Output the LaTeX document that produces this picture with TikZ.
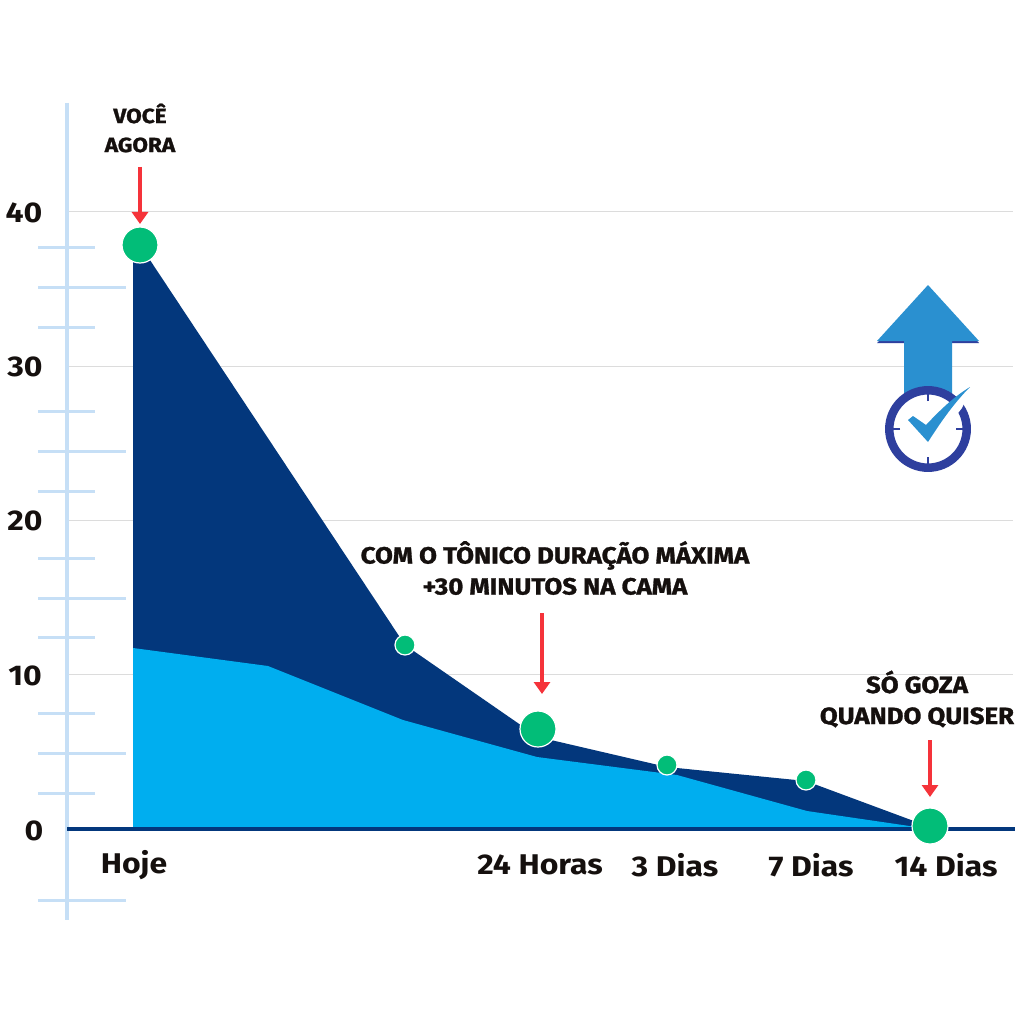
\documentclass[tikz,border=0pt]{standalone}
\usepackage{fontspec}
\setmainfont{Fira Sans}[BoldFeatures={FakeStretch=1.12}]
\newfontfamily\calloutfont{Fira Sans}[BoldFeatures={FakeStretch=1.10,FakeBold=1.2}]
\usetikzlibrary{arrows.meta}
\definecolor{darkarea}{HTML}{03377C}
\definecolor{lightarea}{HTML}{00AEEF}
\definecolor{dotgreen}{HTML}{02BD78}
\definecolor{redarrow}{HTML}{F5333A}
\definecolor{rulerblue}{HTML}{C6DFF6}
\definecolor{gridgray}{HTML}{DCDCDC}
\definecolor{inkblack}{HTML}{15100E}
\definecolor{clockblue}{HTML}{2E3F9E}
\definecolor{bigarrow}{HTML}{2A90D0}
\tikzset{
  gridline/.style={draw=gridgray,line width=1pt},
  rulerline/.style={draw=rulerblue,line width=4pt},
  tickline/.style={draw=rulerblue,line width=3pt},
  bigdot/.style={circle,fill=dotgreen,draw=white,line width=1.2pt,minimum size=36pt,inner sep=0pt},
  smalldot/.style={circle,fill=dotgreen,draw=white,line width=1.2pt,minimum size=20pt,inner sep=0pt},
  redline/.style={draw=redarrow,line width=3.6pt,-{Triangle[width=16pt,length=12pt]}},
  axislabel/.style={text=inkblack,font=\bfseries\fontsize{28.5}{30}\selectfont,inner sep=0pt},
  callout/.style={text=inkblack,font=\calloutfont\bfseries\fontsize{23.5}{31}\selectfont,align=center,inner sep=0pt}
}
\begin{document}
\begin{tikzpicture}[x=1pt,y=-1pt]
  \useasboundingbox[fill=white] (0,0) rectangle (1024,1024);
  % horizontal grid
  \foreach \yy in {212,366,520,674}
    \draw[gridline] (69,\yy) -- (1013,\yy);
  % ruler on the left
  \draw[rulerline] (67,103) -- (67,920);
  \foreach \yy in {247,327,411,491,558,637,713,793}
    \draw[tickline] (38,\yy) -- (95,\yy);
  \foreach \yy in {287,451,598,753,900}
    \draw[tickline] (38,\yy) -- (126,\yy);
  % areas
  \fill[darkarea] (133,829) -- (133,245) -- (140,245) -- (405,645) -- (538,737) -- (667,767) -- (806,781) -- (930,827) -- (930,829) -- cycle;
  \fill[lightarea] (133,829) -- (133,648) -- (268,666) -- (403,720) -- (537,757) -- (677,775) -- (807,811) -- (930,829) -- cycle;
  \draw[draw=darkarea,line width=4pt] (67,829) -- (1015,829);
  % big arrow and clock
  \fill[clockblue] (877,343) -- (979,343) -- (975,339) -- (881,339) -- cycle;
  \fill[bigarrow] (928,285) -- (979,341) -- (952,341) -- (952,400) -- (904,400) -- (904,341) -- (877,341) -- cycle;
  \draw[draw=clockblue,fill=white,line width=8.5pt] (928,429) circle (38.7);
  \foreach \aa in {0,90,180,270}
    \draw[draw=clockblue,line width=1.5pt] (928,429) ++(\aa:28) -- ++(\aa:7);
  \fill[white] (934,424) -- (973,384) -- (962,408) -- (932,446) -- cycle;
  \fill[bigarrow] (908,420) -- (913,416) -- (926,425) .. controls (942,408) and (955,396) .. (970,387) .. controls (955,402) and (942,420) .. (928,442) -- cycle;
  % y labels
  \node[axislabel] (y40) at (24,213) {40};
  \node[axislabel] (y30) at (25,367) {30};
  \node[axislabel] (y20) at (25,521) {20};
  \node[axislabel] (y10) at (25,676) {10};
  \node[axislabel] (y0) at (34,831) {0};
  % x labels
  \node[axislabel] (hoje) at (134,865) {Hoje};
  \node[axislabel] (horas) at (540,865) {24 Horas};
  \node[axislabel] (tres) at (675,865) {3 Dias};
  \node[axislabel] (sete) at (811,865) {7 Dias};
  \node[axislabel] (quatorze) at (946,865) {14 Dias};
  % points on the curve
  \node[bigdot] (voce) at (140,245) {};
  \node[smalldot] (p12) at (405,645) {};
  \node[bigdot] (tonico) at (538,729) {};
  \node[smalldot] (p3d) at (667,765) {};
  \node[smalldot] (p7d) at (806,780) {};
  \node[bigdot] (goza) at (930,826) {};
  % callouts
  \node[callout,font=\calloutfont\bfseries\fontsize{20.5}{29}\selectfont] (agora) at (140,128) {VOCÊ\\AGORA};
  \node[callout] (duracao) at (555,568) {COM O TÔNICO DURAÇÃO MÁXIMA\\+30 MINUTOS NA CAMA};
  \node[callout] (quiser) at (917,699) {SÓ GOZA\\QUANDO QUISER};
  \coordinate (agorastart) at (140,167);
  \coordinate (agoraend) at (140,224);
  \coordinate (duracaostart) at (542,613);
  \coordinate (duracaoend) at (542,694);
  \coordinate (quiserstart) at (930,740);
  \coordinate (quiserend) at (930,797);
  \draw[redline] (agorastart) -- (agoraend);
  \draw[redline] (duracaostart) -- (duracaoend);
  \draw[redline] (quiserstart) -- (quiserend);
\end{tikzpicture}
\end{document}
